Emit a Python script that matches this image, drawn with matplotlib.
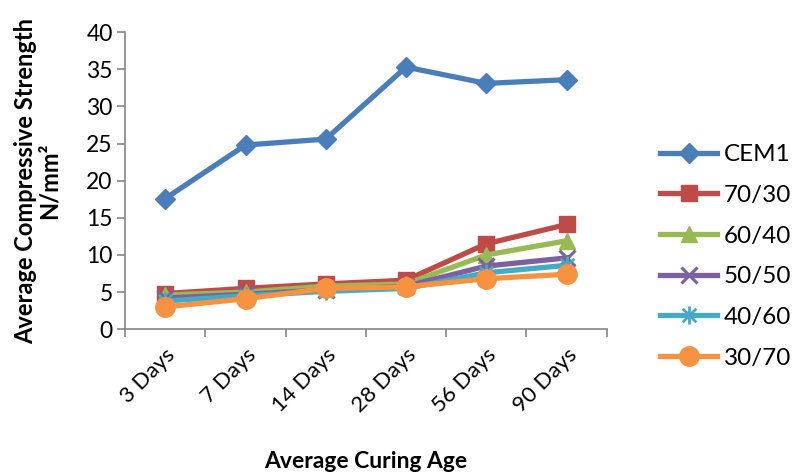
import matplotlib
matplotlib.use("Agg")
import matplotlib.pyplot as plt
import matplotlib.transforms as mtransforms
from matplotlib.path import Path

plt.rcParams['font.family'] = ['Lato', 'DejaVu Sans']

ages = ["3 Days", "7 Days", "14 Days", "28 Days", "56 Days", "90 Days"]
series_names = ["CEM1", "70/30", "60/40", "50/50", "40/60", "30/70"]
cem1 = [17.6, 24.8, 25.6, 35.3, 33.1, 33.6]
mix_70_30 = [4.8, 5.5, 6.1, 6.6, 11.5, 14.1]
mix_60_40 = [4.6, 5.0, 5.8, 6.1, 10.0, 11.9]
mix_50_50 = [4.2, 4.7, 5.3, 5.8, 8.5, 9.6]
mix_40_60 = [3.8, 4.5, 5.1, 5.5, 7.6, 8.6]
mix_30_70 = [3.0, 4.1, 5.5, 5.7, 6.8, 7.4]
y_ticks = [0, 5, 10, 15, 20, 25, 30, 35, 40]

# asterisk marker: vertical stroke plus two diagonals
star = Path([(0, -1), (0, 1), (-0.75, -0.75), (0.75, 0.75), (-0.75, 0.75), (0.75, -0.75)],
            [Path.MOVETO, Path.LINETO, Path.MOVETO, Path.LINETO, Path.MOVETO, Path.LINETO])

styles = [
    dict(color="#4A7EBB", marker="D", ms=10, mec="#4A7EBB"),
    dict(color="#BE4B48", marker="s", ms=11, mec="#BE4B48"),
    dict(color="#98B954", marker="^", ms=11, mec="#98B954"),
    dict(color="#7D60A0", marker="x", ms=12, mew=2.2, mec="#7D60A0"),
    dict(color="#46AAC5", marker=star, ms=13, mew=2.0, mec="#46AAC5"),
    dict(color="#F69240", marker="o", ms=14, mec="#F69240"),
]
data = [cem1, mix_70_30, mix_60_40, mix_50_50, mix_40_60, mix_30_70]

fig = plt.figure(figsize=(7.92, 4.73), dpi=100)
ax = fig.add_axes([0.158, 0.304, 0.608, 0.628])

x = list(range(len(ages)))
for name, vals, st in zip(series_names, data, styles):
    ax.plot(x, vals, lw=3.8, label=name, solid_joinstyle="round", **st)

ax.set_xlim(-0.5, len(ages) - 0.5)
ax.set_ylim(0, 40)
ax.set_yticks(y_ticks)
ax.set_xticks(x)
ax.set_xticklabels(ages, rotation=45, ha="right", rotation_mode="anchor", fontsize=16)
shift = mtransforms.ScaledTranslation(6 / 100, 0, fig.dpi_scale_trans)
for lbl in ax.get_xticklabels():
    lbl.set_transform(lbl.get_transform() + shift)
ax.set_xticks([i - 0.5 for i in range(len(ages) + 1)], minor=True)
ax.tick_params(axis="x", which="major", length=0, pad=11)
ax.tick_params(axis="x", which="minor", length=6, color="#868686", width=1.2)
ax.tick_params(axis="y", length=6, color="#868686", width=1.2, labelsize=16.5, pad=3)

for side in ("top", "right"):
    ax.spines[side].set_visible(False)
for side in ("left", "bottom"):
    ax.spines[side].set_color("#868686")
    ax.spines[side].set_linewidth(1.2)

ax.set_ylabel("Average Compressive Strength\nN/mm²", fontsize=17, fontweight="bold",
              linespacing=1.0)
ax.yaxis.set_label_coords(-0.135, 0.5)
ax.set_xlabel("Average Curing Age", fontsize=16.5, fontweight="bold")
ax.xaxis.set_label_coords(0.5, -0.41)

ax.legend(loc="center left", bbox_to_anchor=(1.066, 0.245), frameon=False, fontsize=17.5,
          handlelength=2.35, labelspacing=0.81, handletextpad=0.25)

fig.savefig("out.png", dpi=100)
